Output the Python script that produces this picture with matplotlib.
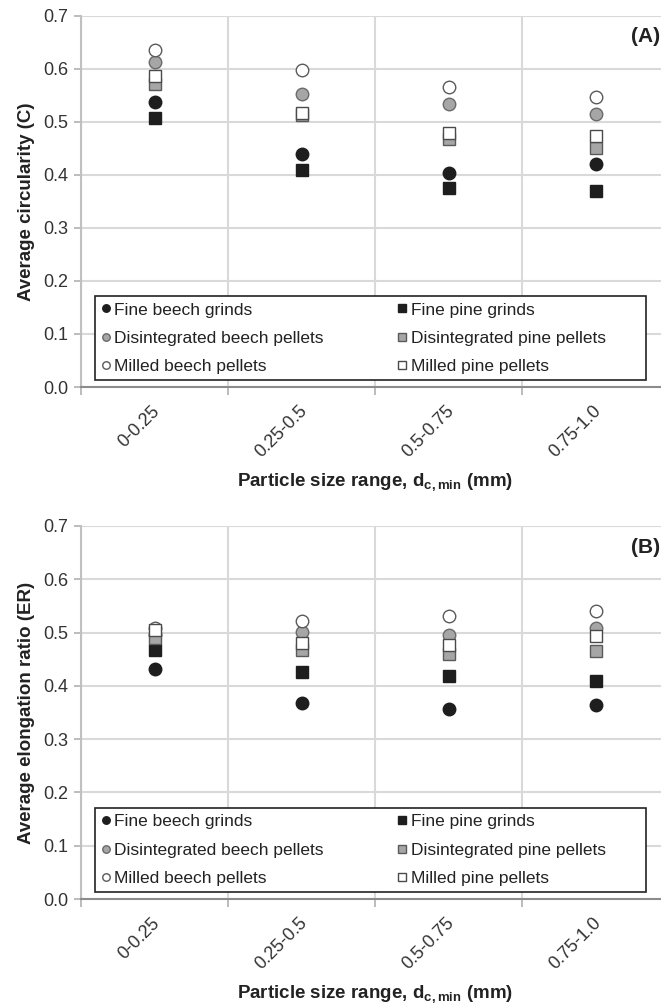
import numpy as np
import matplotlib
matplotlib.use("Agg")
import matplotlib.pyplot as plt
import matplotlib.transforms as mtrans

plt.rcParams['font.family'] = ['Liberation Sans', 'DejaVu Sans']
plt.rcParams['mathtext.fontset'] = 'custom'
plt.rcParams['mathtext.rm'] = 'Liberation Sans'
plt.rcParams['mathtext.bf'] = 'Liberation Sans:bold'

categories = ["0-0.25", "0.25-0.5", "0.5-0.75", "0.75-1.0"]
series_names = ["Fine beech grinds", "Disintegrated beech pellets", "Milled beech pellets",
                "Fine pine grinds", "Disintegrated pine pellets", "Milled pine pellets"]

# (A) average circularity
circ_fine_beech = [0.538, 0.439, 0.404, 0.420]
circ_dis_beech = [0.613, 0.552, 0.534, 0.514]
circ_mill_beech = [0.635, 0.598, 0.565, 0.546]
circ_fine_pine = [0.508, 0.409, 0.376, 0.370]
circ_dis_pine = [0.571, 0.512, 0.468, 0.451]
circ_mill_pine = [0.587, 0.516, 0.479, 0.473]

# (B) average elongation ratio
er_fine_beech = [0.431, 0.367, 0.357, 0.364]
er_dis_beech = [0.495, 0.502, 0.495, 0.508]
er_mill_beech = [0.508, 0.522, 0.531, 0.540]
er_fine_pine = [0.467, 0.426, 0.418, 0.409]
er_dis_pine = [0.490, 0.467, 0.460, 0.466]
er_mill_pine = [0.505, 0.480, 0.477, 0.493]

styles = [
    dict(marker='o', mfc='#1e1e1e', mec='#1e1e1e'),
    dict(marker='o', mfc='#a6a6a6', mec='#6a6a6a'),
    dict(marker='o', mfc='white', mec='#5a5a5a'),
    dict(marker='s', mfc='#1e1e1e', mec='#1e1e1e'),
    dict(marker='s', mfc='#a6a6a6', mec='#5a5a5a'),
    dict(marker='s', mfc='white', mec='#4a4a4a'),
]

W, H = 661, 1005
fig = plt.figure(figsize=(W / 100, H / 100), dpi=100)
left = 81 / W
width = 588 / W
ax_a = fig.add_axes([left, 1 - 387 / H, width, (387 - 15.7) / H])
ax_b = fig.add_axes([left, 1 - 899 / H, width, (899 - 526) / H])

panels = [
    (ax_a, [circ_fine_beech, circ_dis_beech, circ_mill_beech,
            circ_fine_pine, circ_dis_pine, circ_mill_pine],
     "Average circularity (C)", "(A)"),
    (ax_b, [er_fine_beech, er_dis_beech, er_mill_beech,
            er_fine_pine, er_dis_pine, er_mill_pine],
     "Average elongation ratio (ER)", "(B)"),
]

x = np.arange(len(categories))
for ax, data, ylab, tag in panels:
    handles = []
    for vals, name, st in zip(data, series_names, styles):
        h, = ax.plot(x, vals, linestyle='none', ms=9, mew=1.0, label=name, zorder=3, **st)
        handles.append(h)

    ax.set_xlim(-0.5, 3.5)
    ax.set_ylim(0, 0.7)
    ax.set_yticks(np.arange(0, 0.71, 0.1))
    ax.set_yticklabels([f"{v:.1f}" for v in np.arange(0, 0.71, 0.1)])
    ax.set_xticks(x)
    ax.set_xticklabels(categories, rotation=45, ha='right', va='top', rotation_mode='anchor')
    ax.set_xticks(np.arange(-0.5, 3.6, 1.0), minor=True)
    ax.tick_params(axis='x', which='major', length=0, labelsize=13, colors='#333333', pad=11)
    ax.tick_params(axis='x', which='minor', length=6, width=1.2, color='#b0b0b0')
    ax.tick_params(axis='y', length=5, width=1.2, color='#b0b0b0', labelsize=13,
                   labelcolor='#333333', pad=4)
    off = mtrans.ScaledTranslation(-3 / 100, 0, fig.dpi_scale_trans)
    for lab in ax.get_xticklabels():
        lab.set_transform(lab.get_transform() + off)

    ax.grid(True, axis='y', which='major', color='#d9d9d9', lw=1.5, zorder=0)
    ax.grid(True, axis='x', which='minor', color='#d9d9d9', lw=1.5, zorder=0)
    ax.set_axisbelow(True)
    for s in ['top', 'right']:
        ax.spines[s].set_visible(False)
    ax.spines['left'].set_color('#c0c0c0')
    ax.spines['left'].set_linewidth(1.5)
    ax.spines['bottom'].set_color('#8c8c8c')
    ax.spines['bottom'].set_linewidth(1.5)

    ax.set_ylabel(ylab, fontsize=13.5, fontweight='bold', color='#222222', labelpad=6)
    ax.set_xlabel(r"Particle size range, $\mathbf{d}_{\mathbf{c,min}}$ (mm)",
                  fontsize=13.5, fontweight='bold', color='#222222', labelpad=8)
    ax.text(0.935, 0.943, tag, transform=ax.transAxes, fontsize=15, fontweight='bold',
            color='#222222', ha='left', va='center')

    # pine column labels carry trailing blanks so the second column sits where the reference has it
    labels = [h.get_label() for h in handles]
    labels = labels[:3] + [lab + " " * 7 for lab in labels[3:]]
    leg = ax.legend(handles, labels, ncol=2, loc='lower left', mode='expand',
                    bbox_to_anchor=(0.024, 0.019, 0.937, 0.229),
                    fontsize=12.5, markerscale=0.6, handlelength=0.5, handletextpad=0.25,
                    labelspacing=0.75, borderpad=0.35, borderaxespad=0,
                    fancybox=False, framealpha=1, edgecolor='#222222')
    leg.get_frame().set_linewidth(1.2)
    for t in leg.get_texts():
        t.set_color('#222222')

fig.savefig("out.png", dpi=100)
